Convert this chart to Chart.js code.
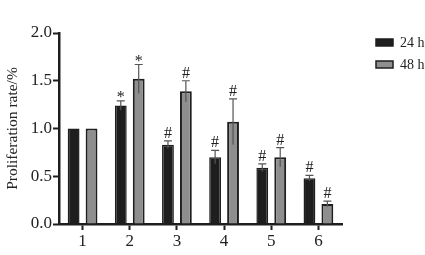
<!DOCTYPE html>
<html>
<head>
<meta charset="utf-8">
<script src="https://cdn.jsdelivr.net/npm/chart.js@4/dist/chart.umd.min.js"></script>
<style>
  html, body { margin: 0; padding: 0; background: #fff; }
  #wrap { width: 425px; height: 255px; }
</style>
</head>
<body>
<div id="wrap"><canvas id="chart"></canvas></div>
<script>
const groups = ['1', '2', '3', '4', '5', '6'];
const seriesNames = ['24 h', '48 h'];
const values24 = [1.00, 1.24, 0.83, 0.70, 0.59, 0.48];
const values48 = [1.00, 1.52, 1.39, 1.07, 0.70, 0.21];
const err24 = [0, 0.05, 0.04, 0.07, 0.04, 0.03];
const err48 = [0, 0.15, 0.11, 0.24, 0.10, 0.03];
const marks24 = ['', '*', '#', '#', '#', '#'];
const marks48 = ['', '*', '#', '#', '#', '#'];
const yTicks = [0, 0.5, 1.0, 1.5, 2.0];

const serif = "'Liberation Serif', 'DejaVu Serif', serif";
const errs = [err24, err48];
const marks = [marks24, marks48];

// error bars and significance marks
const errorBars = {
  id: 'errorBars',
  afterDatasetsDraw(chart) {
    const ctx = chart.ctx;
    const y = chart.scales.y;
    chart.data.datasets.forEach((ds, di) => {
      chart.getDatasetMeta(di).data.forEach((bar, i) => {
        const v = ds.data[i];
        const e = errs[di][i];
        const x = bar.x;
        const top = y.getPixelForValue(v + e);
        if (e > 0) {
          const bot = y.getPixelForValue(v - e);
          ctx.save();
          ctx.strokeStyle = '#555';
          ctx.lineWidth = 1.2;
          ctx.beginPath();
          ctx.moveTo(x, bot); ctx.lineTo(x, top);
          ctx.moveTo(x - 4, top); ctx.lineTo(x + 4, top);
          ctx.stroke();
          ctx.restore();
        }
        const m = marks[di][i];
        if (m) {
          ctx.save();
          ctx.fillStyle = '#222';
          ctx.font = '16px ' + serif;
          ctx.textAlign = 'center';
          ctx.textBaseline = 'alphabetic';
          ctx.fillText(m, x, top - (m === '*' ? -1 : 3));
          ctx.restore();
        }
      });
    });
  }
};

// legend drawn at right
const sideLegend = {
  id: 'sideLegend',
  afterDraw(chart) {
    const ctx = chart.ctx;
    const colors = ['#1e1e1e', '#8e8e8e'];
    seriesNames.forEach((name, i) => {
      const yy = 42 + i * 22;
      ctx.save();
      ctx.fillStyle = colors[i];
      ctx.fillRect(376, yy - 3, 17, 7);
      ctx.strokeStyle = '#1e1e1e';
      ctx.lineWidth = 1.5;
      ctx.strokeRect(376, yy - 3, 17, 7);
      ctx.fillStyle = '#222';
      ctx.font = '14px ' + serif;
      ctx.textBaseline = 'middle';
      ctx.fillText(name, 400, yy + 1);
      ctx.restore();
    });
  }
};

new Chart(document.getElementById('chart'), {
  type: 'bar',
  data: {
    labels: groups,
    datasets: [
      {
        label: seriesNames[0],
        data: values24,
        backgroundColor: '#1e1e1e',
        borderColor: '#1e1e1e',
        borderWidth: 1.5,
        borderSkipped: 'bottom'
      },
      {
        label: seriesNames[1],
        data: values48,
        backgroundColor: '#8e8e8e',
        borderColor: '#1e1e1e',
        borderWidth: 2,
        borderSkipped: 'bottom'
      }
    ]
  },
  options: {
    responsive: true,
    maintainAspectRatio: false,
    animation: false,
    categoryPercentage: 0.76,
    barPercentage: 0.66,
    layout: { padding: { top: 33, right: 83, left: 3, bottom: 0 } },
    plugins: { legend: { display: false }, tooltip: { enabled: false } },
    scales: {
      x: {
        grid: { display: true, drawOnChartArea: false, offset: false, tickLength: 6, tickWidth: 2, tickColor: '#1e1e1e' },
        border: { display: true, color: '#1e1e1e', width: 2.5 },
        ticks: { color: '#222', font: { family: serif, size: 17 }, padding: 1 },
        afterFit(s) { s.height = 31; }
      },
      y: {
        min: 0,
        max: 2,
        afterBuildTicks(s) { s.ticks = yTicks.map(v => ({ value: v })); },
        grid: { display: true, drawOnChartArea: false, tickLength: 6, tickWidth: 2, tickColor: '#1e1e1e' },
        border: { display: true, color: '#1e1e1e', width: 2.5 },
        ticks: { color: '#222', font: { family: serif, size: 17 }, padding: 1, callback: v => v.toFixed(1) },
        title: { display: true, text: 'Proliferation rate/%', color: '#222', font: { family: serif, size: 15.5 }, padding: 1 },
        afterFit(s) { s.width = 56; }
      }
    }
  },
  plugins: [errorBars, sideLegend]
});
</script>
</body>
</html>
